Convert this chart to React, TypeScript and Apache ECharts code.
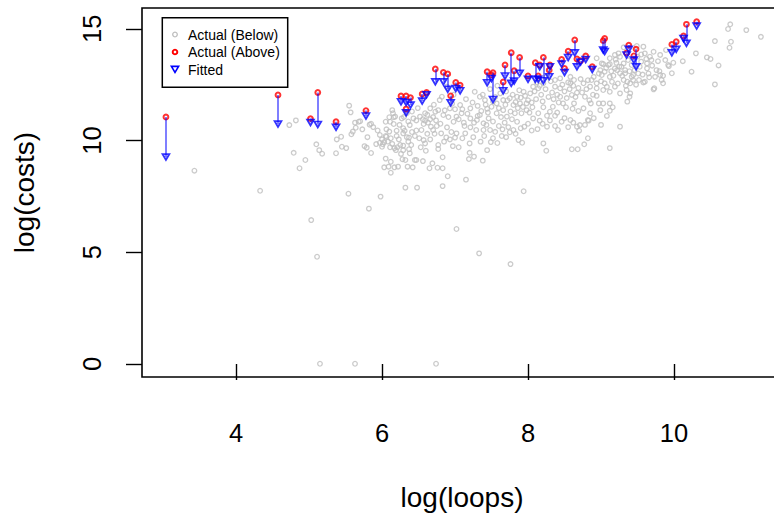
import React, { useEffect, useRef } from "react";
import * as echarts from "echarts";

// log(loops) / log(costs) observations lying below their fitted value
const belowPoints: [number, number][] = [
  [3.43, 8.65], [4.33, 7.75], [4.73, 10.69], [4.82, 10.9], [4.79, 9.45], [4.95, 9.13], [4.87, 8.76],
  [5.1, 9.83], [5.14, 9.57], [5.18, 9.41], [5.03, 6.44], [5.11, 4.8], [5.15, 0.01], [5.63, 0.01],
  [6.74, 0.01], [5.37, 9.43], [5.38, 10.05], [5.44, 10.17], [5.45, 9.72], [5.51, 9.66], [5.54, 7.62],
  [5.55, 11.56], [5.57, 11.26], [5.58, 10.28], [5.63, 10.8], [5.64, 10.57], [5.68, 10.84], [5.7, 10.86],
  [5.76, 9.75], [5.79, 9.68], [5.83, 10.71], [5.85, 10.75], [5.85, 9.44], [5.82, 6.95], [5.92, 9.84],
  [5.98, 7.49], [6.0, 9.72], [6.03, 9.93], [6.05, 9.19], [6.06, 10.17], [6.1, 11.04], [6.12, 8.56],
  [6.12, 9.05], [6.14, 11.36], [6.16, 11.04], [6.16, 10.74], [6.17, 8.8], [6.2, 10.44], [6.21, 9.7],
  [6.09, 8.83], [6.03, 8.8], [6.01, 9.83], [6.22, 8.83], [6.28, 9.16], [6.26, 9.4], [6.32, 7.89],
  [6.48, 7.89], [6.47, 9.13], [6.56, 9.08], [6.42, 8.8], [6.35, 8.83], [6.65, 8.76], [6.76, 8.78],
  [6.83, 8.76], [6.69, 8.98], [6.83, 9.25], [6.9, 8.4], [6.83, 7.96], [7.15, 8.25], [7.02, 6.04],
  [7.33, 4.95], [7.76, 4.47], [7.94, 7.73], [7.05, 9.7], [7.2, 9.45], [7.19, 9.17], [7.26, 9.28],
  [7.38, 9.1], [7.44, 9.57], [7.58, 9.89], [7.49, 9.93], [7.35, 9.95], [6.77, 9.62], [6.6, 9.54],
  [6.37, 9.61], [6.29, 9.77], [6.17, 9.66], [6.11, 9.7], [6.05, 10.2], [6.12, 10.1], [6.2, 10.2],
  [6.31, 10.44], [6.41, 10.38], [6.37, 10.13], [6.45, 10.2], [6.51, 10.1], [6.57, 10.02], [6.59, 9.87],
  [6.54, 10.47], [6.59, 10.89], [6.67, 10.62], [6.63, 10.8], [6.57, 10.74], [6.7, 10.47], [6.75, 10.65],
  [6.81, 10.32], [6.89, 10.59], [6.88, 10.14], [6.95, 10.38], [7.02, 10.32], [7.0, 10.13], [6.93, 10.05],
  [7.14, 10.32], [7.13, 10.65], [7.21, 10.59], [7.29, 10.47], [7.39, 10.47], [7.48, 10.47], [7.55, 10.39],
  [7.65, 10.5], [7.75, 10.37], [7.8, 10.47], [7.95, 10.62], [8.13, 10.51], [8.37, 10.65], [8.41, 10.47],
  [8.7, 10.44], [8.6, 9.61], [8.68, 9.61], [8.77, 9.83], [8.82, 10.1], [9.12, 9.66], [9.26, 10.62],
  [8.83, 10.89], [8.69, 11.32], [8.76, 11.44], [8.86, 11.66], [8.97, 11.66], [8.94, 12.0], [8.78, 11.96],
  [8.67, 12.14], [8.6, 12.04], [8.63, 11.66], [8.61, 11.42], [8.48, 11.66], [8.52, 11.49], [8.44, 11.96],
  [8.34, 11.51], [8.3, 11.29], [8.21, 11.49], [8.26, 11.11], [8.37, 11.11], [8.14, 11.22], [8.07, 10.99],
  [8.06, 11.49], [7.98, 11.36], [7.98, 11.66], [7.89, 11.66], [7.8, 11.59], [7.82, 11.22], [7.91, 11.22],
  [8.16, 10.89], [7.57, 11.22], [7.66, 11.36], [7.71, 11.07], [7.78, 10.95], [7.85, 10.84], [7.46, 10.99],
  [7.5, 11.51], [7.57, 11.66], [7.66, 11.81], [7.75, 11.89], [7.85, 11.96], [7.94, 12.18], [8.03, 12.11],
  [8.07, 12.41], [8.14, 12.34], [8.21, 12.56], [8.37, 12.41], [8.44, 12.34], [8.37, 12.71], [8.44, 12.78],
  [8.58, 12.85], [8.63, 12.71], [8.58, 12.56], [8.76, 12.56], [8.85, 12.41], [8.94, 12.56], [9.01, 12.93],
  [9.12, 12.85], [8.99, 13.15], [9.03, 13.42], [9.12, 13.42], [9.12, 13.68], [9.19, 13.83], [9.26, 13.75],
  [9.31, 13.45], [9.22, 13.15], [9.33, 13.01], [9.44, 12.93], [9.44, 12.71], [9.52, 12.71], [9.6, 12.63],
  [9.74, 12.85], [9.81, 12.93], [9.85, 12.56], [9.73, 12.34], [9.92, 13.38], [9.99, 13.48], [9.97, 13.01],
  [10.24, 13.08], [9.63, 13.45], [9.67, 13.75], [9.81, 13.83], [9.72, 13.97], [9.4, 12.56], [9.4, 12.11],
  [9.36, 11.74], [9.16, 11.49], [9.12, 11.33], [8.71, 10.69], [8.46, 10.84], [8.26, 10.62], [7.21, 10.99],
  [7.3, 10.92], [7.39, 10.77], [7.34, 11.14], [7.21, 11.44], [7.27, 12.18], [7.34, 11.96], [7.41, 11.81],
  [7.62, 12.11], [7.07, 11.59], [6.93, 11.44], [7.09, 11.22], [7.02, 11.07], [6.98, 10.84], [6.84, 11.14],
  [6.77, 11.36], [6.73, 11.29], [6.79, 11.81], [6.66, 11.44], [6.59, 11.22], [6.52, 11.07], [6.43, 10.99],
  [6.34, 11.22], [6.27, 10.99], [6.18, 11.07], [6.11, 10.84], [6.38, 10.69], [6.29, 10.55], [6.06, 10.5],
  [5.97, 10.25], [6.89, 12.41], [6.82, 11.96], [5.97, 9.9], [6.05, 10.84], [6.15, 11.22], [6.1, 10.4],
  [6.29, 10.32], [6.36, 9.95], [6.25, 9.8], [6.19, 9.57], [6.29, 9.57], [6.38, 9.43], [6.32, 9.13],
  [6.45, 9.13], [8.21, 9.87], [8.25, 9.54], [7.87, 10.02], [7.92, 9.9], [7.64, 10.2], [6.77, 9.8],
  [7.2, 9.87], [10.77, 15.2], [10.74, 14.99], [10.99, 14.94], [11.19, 14.64], [10.56, 14.45], [10.78, 14.42],
  [10.76, 14.15], [10.45, 13.72], [10.5, 13.65], [10.61, 13.36], [10.56, 12.51], [9.93, 13.33], [9.85, 12.9],
  [9.89, 14.05], [9.83, 12.71], [9.58, 14.2], [9.49, 14.23], [9.6, 13.9], [9.69, 13.6], [9.53, 13.3],
  [9.63, 13.23], [9.66, 12.83], [9.72, 12.29], [9.39, 11.96], [9.31, 14.17], [9.24, 13.9], [9.28, 13.3],
  [9.33, 13.15], [9.26, 13.01], [9.21, 13.48], [9.19, 13.23], [9.31, 12.71], [9.36, 12.63], [9.42, 12.85],
  [9.42, 13.38], [9.1, 13.38], [9.05, 13.08], [9.01, 13.45], [8.94, 13.68], [8.87, 12.71], [8.94, 12.34],
  [9.05, 12.56], [9.15, 12.63], [9.19, 12.41], [9.12, 12.18], [9.03, 12.26], [9.5, 13.75], [9.55, 13.53],
  [9.76, 13.15], [9.58, 12.6], [8.58, 10.92], [8.67, 10.62], [8.82, 10.92], [8.85, 11.22], [8.99, 11.36],
  [9.03, 11.66], [9.12, 11.66], [9.26, 12.11], [9.35, 12.26],
  // dense core of the cloud
  [7.31, 11.55], [7.36, 11.32], [7.42, 11.6], [7.45, 11.25], [7.52, 11.75], [7.55, 11.95], [7.6, 11.45],
  [7.63, 11.05], [7.69, 11.6], [7.72, 11.8], [7.76, 11.3], [7.79, 12.05], [7.83, 11.72], [7.86, 11.45],
  [7.9, 11.92], [7.93, 11.5], [7.96, 12.0], [8.0, 11.8], [8.02, 11.25], [8.05, 11.7], [8.09, 12.2],
  [8.11, 11.85], [7.88, 12.25], [7.7, 12.2], [7.48, 12.3], [7.58, 12.45], [7.38, 12.05], [7.44, 11.42],
  [8.12, 12.6], [8.18, 12.05], [8.2, 11.75], [8.24, 12.3], [8.28, 11.95], [8.31, 12.65], [8.33, 12.15],
  [8.4, 12.05], [8.42, 11.7], [8.47, 12.5], [8.5, 12.2], [8.53, 11.9], [8.55, 12.6], [8.57, 12.3],
  [8.62, 12.45], [8.65, 11.95], [8.69, 12.35], [8.72, 12.75], [8.74, 12.15], [8.8, 12.3], [8.82, 12.7],
  [8.84, 11.8], [8.89, 12.05], [8.9, 12.85], [8.25, 12.85], [8.16, 12.45], [8.35, 11.85],
  [8.97, 13.0], [9.0, 12.65], [9.07, 13.25], [9.08, 12.4], [9.14, 13.1], [9.17, 12.9], [9.2, 13.62],
  [9.23, 12.55], [9.25, 13.3], [9.29, 12.9], [9.34, 12.45], [9.37, 13.6], [9.39, 13.1], [9.46, 13.15],
  [9.48, 12.5], [9.51, 13.0], [9.55, 13.85], [9.57, 12.95], [9.62, 13.65], [9.65, 13.0], [9.7, 13.35],
  [9.78, 13.55], [9.8, 13.1], [9.88, 13.6],
  [6.24, 10.7], [6.3, 11.05], [6.36, 10.85], [6.41, 11.3], [6.47, 10.9], [6.49, 11.45], [6.56, 10.95],
  [6.62, 11.15], [6.66, 10.95], [6.71, 11.6], [6.74, 10.9], [6.8, 10.75], [6.86, 11.35], [6.91, 11.05],
  [6.96, 11.65], [7.0, 11.4], [7.05, 10.95], [7.1, 11.4], [7.12, 10.8], [7.17, 11.2], [7.24, 11.7],
  [7.26, 10.8], [7.31, 11.1], [6.98, 12.05], [7.15, 11.85], [6.7, 11.05],
  [5.94, 10.45], [6.0, 10.05], [6.08, 9.95], [6.14, 9.85], [6.23, 10.05], [6.34, 10.15], [6.4, 9.8],
  [6.47, 10.45], [6.53, 9.7], [6.62, 10.3], [6.66, 10.05], [6.72, 10.3], [6.85, 9.95], [6.97, 9.75],
  [7.1, 10.1], [7.25, 10.15], [7.4, 10.2], [7.52, 10.1], [7.7, 10.15], [7.83, 10.3],
  [7.43, 10.7], [7.52, 10.85], [7.6, 10.65], [7.68, 10.8], [7.73, 10.6], [7.9, 10.55], [8.0, 10.75],
  [8.05, 10.45], [8.2, 10.75], [8.3, 10.9], [8.4, 11.25], [8.5, 11.0], [8.55, 10.6], [8.62, 10.8],
  [8.78, 10.7], [8.9, 11.0], [9.0, 10.7], [9.08, 11.1], [10.12, 13.55], [10.3, 13.9],
  [5.6, 10.4], [5.73, 10.5], [5.8, 10.15], [5.88, 10.6],
];

// observations lying above their fitted value: shared x, actual and fitted y
const aboveX = [
  3.04, 4.575, 5.02, 5.12, 5.37, 5.78, 6.26, 6.33, 6.39, 6.33, 6.55, 6.61, 6.73, 6.84, 6.9, 6.94, 7.01,
  7.07, 7.44, 7.52, 7.5, 7.685, 7.66, 7.77, 7.81, 7.885, 8.0, 8.1, 8.16, 8.14, 8.21, 8.3, 8.29, 8.46,
  8.5, 8.55, 8.64, 8.67, 8.72, 8.79, 8.88, 9.05, 9.03, 9.38, 9.35, 9.48, 9.45, 9.97, 10.03, 10.13,
  10.17, 10.31,
];
const aboveActual = [
  11.05, 12.04, 10.98, 12.15, 10.84, 11.34, 11.99, 11.99, 11.92, 11.41, 12.08, 12.15, 13.2, 13.05,
  12.98, 12.0, 12.6, 12.48, 13.08, 13.03, 12.93, 13.38, 12.62, 13.93, 13.12, 13.72, 12.89, 13.48,
  13.38, 12.89, 13.72, 13.38, 13.15, 13.63, 13.23, 14.0, 14.5, 13.65, 13.57, 13.78, 13.3, 14.57,
  14.47, 14.27, 13.92, 14.09, 13.79, 14.3, 14.42, 14.68, 15.2, 15.32,
];
const aboveFitted = [
  9.26, 10.74, 10.81, 10.72, 10.59, 11.1, 11.74, 11.7, 11.59, 11.24, 11.77, 12.05, 12.63, 12.63,
  12.29, 11.69, 12.33, 12.23, 12.59, 11.84, 12.78, 12.89, 12.23, 12.56, 12.66, 13.01, 12.74, 12.74,
  13.3, 12.74, 12.68, 13.3, 12.86, 13.42, 13.04, 13.72, 13.93, 13.3, 13.51, 13.63, 13.18, 13.98,
  14.05, 14.08, 13.83, 13.3, 13.6, 13.93, 14.08, 14.57, 14.35, 15.12,
];

const xTicks = [4, 6, 8, 10];
const yTicks = [0, 5, 10, 15];

const GREY = "#BEBEBE";
const RED = "#FF0000";
const BLUE = "#0000FF";
const CLEAR = "rgba(255,255,255,0)";
const FONT = "'Liberation Sans', Arial, Helvetica, sans-serif";
const DOWN_TRIANGLE = "path://M0,0L2,0L1,1.732Z";

export default function App() {
  const ref = useRef<HTMLDivElement>(null);

  useEffect(() => {
    if (!ref.current) return;
    const chart = echarts.init(ref.current, null, { renderer: "svg" });

    const segments = aboveX.map((x, i) => ({
      coords: [
        [x, aboveActual[i]],
        [x, aboveFitted[i]],
      ],
    }));

    chart.setOption({
      animation: false,
      backgroundColor: "#FFFFFF",
      grid: {
        left: 142,
        top: 8,
        width: 640,
        height: 369,
        outerBoundsMode: "none",
        containLabel: false,
        show: true,
        borderColor: "#000",
        borderWidth: 1.6,
        backgroundColor: "transparent",
      },
      xAxis: {
        type: "value",
        min: 2.712,
        max: 11.479,
        name: "log(loops)",
        nameLocation: "middle",
        nameGap: 106,
        nameTextStyle: { fontFamily: FONT, fontSize: 28, color: "#000" },
        axisLine: { show: false },
        splitLine: { show: false },
        axisTick: {
          show: true,
          customValues: xTicks,
          length: 16,
          lineStyle: { color: "#000", width: 1.4 },
        },
        axisLabel: {
          customValues: xTicks,
          margin: 43,
          fontFamily: FONT,
          fontSize: 25.5,
          color: "#000",
        },
      },
      yAxis: {
        type: "value",
        min: -0.582,
        max: 15.93,
        name: "log(costs)",
        nameLocation: "middle",
        nameGap: 104,
        nameRotate: 90,
        nameTextStyle: { fontFamily: FONT, fontSize: 28, color: "#000" },
        axisLine: { show: false },
        splitLine: { show: false },
        axisTick: {
          show: true,
          customValues: yTicks,
          length: 16,
          lineStyle: { color: "#000", width: 1.4 },
        },
        axisLabel: {
          customValues: yTicks,
          rotate: 90,
          margin: 37,
          fontFamily: FONT,
          fontSize: 25.5,
          color: "#000",
        },
      },
      series: [
        {
          name: "Actual (Below)",
          type: "scatter",
          data: belowPoints,
          symbol: "circle",
          symbolSize: 4.6,
          itemStyle: { color: CLEAR, borderColor: GREY, borderWidth: 1.3 },
          emphasis: { disabled: true },
          z: 2,
        },
        {
          name: "Actual (Above)",
          type: "scatter",
          data: aboveX.map((x, i) => [x, aboveActual[i]]),
          symbol: "circle",
          symbolSize: 4.8,
          itemStyle: { color: CLEAR, borderColor: RED, borderWidth: 2 },
          emphasis: { disabled: true },
          z: 3,
        },
        {
          name: "Fitted",
          type: "scatter",
          data: aboveX.map((x, i) => [x, aboveFitted[i]]),
          symbol: DOWN_TRIANGLE,
          symbolSize: [6.8, 5.8],
          itemStyle: { color: CLEAR, borderColor: BLUE, borderWidth: 1.8 },
          emphasis: { disabled: true },
          z: 4,
        },
        {
          name: "segments",
          type: "lines",
          coordinateSystem: "cartesian2d",
          data: segments,
          lineStyle: { color: "rgba(0,0,255,0.5)", width: 2, opacity: 1 },
          emphasis: { disabled: true },
          z: 5,
        },
      ],
      graphic: [
        {
          type: "group",
          z: 100,
          children: [
            {
              type: "rect",
              shape: { x: 162.3, y: 17.7, width: 125.4, height: 69.6 },
              style: { fill: "#FFFFFF", stroke: "#000", lineWidth: 1.5 },
            },
            {
              type: "circle",
              shape: { cx: 175, cy: 34.5, r: 2.3 },
              style: { fill: "none", stroke: GREY, lineWidth: 1.3 },
            },
            {
              type: "circle",
              shape: { cx: 175, cy: 52, r: 2.3 },
              style: { fill: "none", stroke: RED, lineWidth: 2 },
            },
            {
              type: "polygon",
              shape: { points: [[171.4, 66.4], [178.6, 66.4], [175, 72.4]] },
              style: { fill: "none", stroke: BLUE, lineWidth: 1.6 },
            },
            {
              type: "text",
              style: { x: 188, y: 34.5, text: "Actual (Below)", font: `14px ${FONT}`, fill: "#000", verticalAlign: "middle" },
            },
            {
              type: "text",
              style: { x: 188, y: 52, text: "Actual (Above)", font: `14px ${FONT}`, fill: "#000", verticalAlign: "middle" },
            },
            {
              type: "text",
              style: { x: 188, y: 69.5, text: "Fitted", font: `14px ${FONT}`, fill: "#000", verticalAlign: "middle" },
            },
          ],
        },
      ],
    });

    return () => chart.dispose();
  }, []);

  return <div ref={ref} style={{ width: 774, height: 518, position: "absolute", left: 0, top: 0 }} />;
}
